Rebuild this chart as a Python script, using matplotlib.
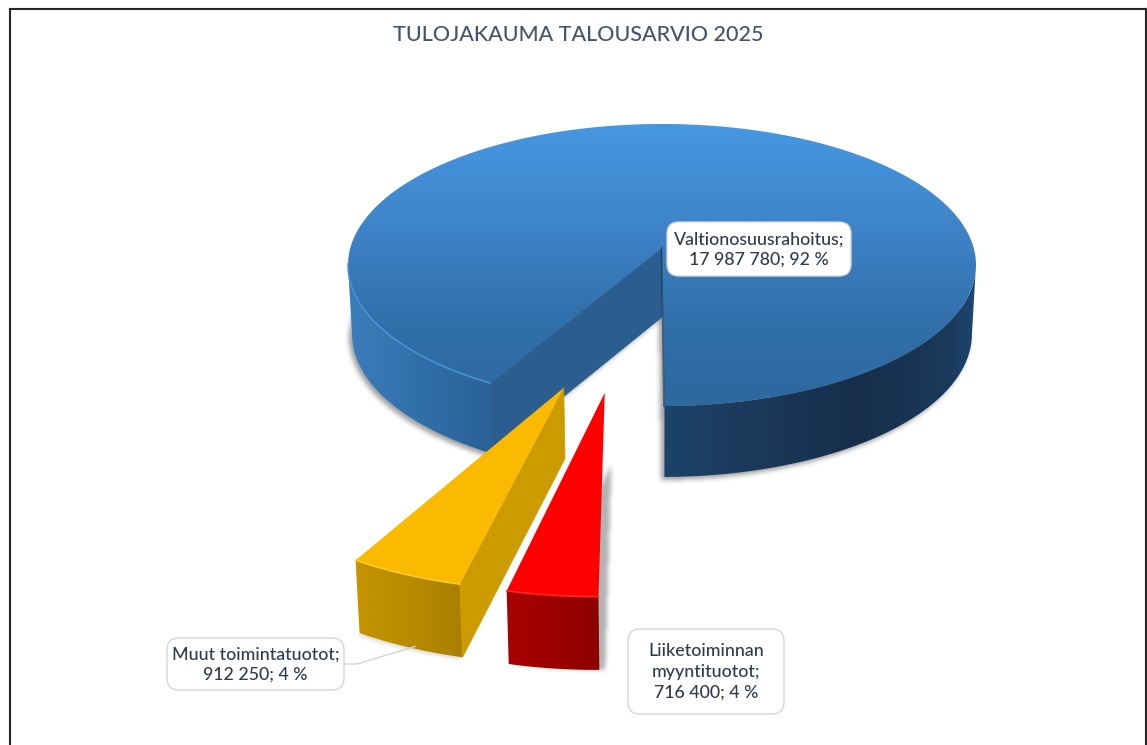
import numpy as np
import matplotlib
matplotlib.use("Agg")
import matplotlib.pyplot as plt
from matplotlib.path import Path
from matplotlib.patches import FancyBboxPatch, PathPatch
from matplotlib.colors import LinearSegmentedColormap as LSC

# ---- data ----
title = "TULOJAKAUMA TALOUSARVIO 2025"
categories = ["Valtionosuusrahoitus", "Liiketoiminnan\nmyyntituotot", "Muut toimintatuotot"]
values = [17987780, 716400, 912250]
pct_labels = [92, 4, 4]

# ---- style ----
W, H = 1147, 745
first_angle = 209.5
explode = [0.0, 0.94, 0.94]
explode_dir = [0.0, 190.0, 197.4]
CX, AY, A, B, K = 662.0, 248.0, 311.7, 139.0, 0.1206
txt_col = "#2f3b4f"
top_cmaps = [
    LSC.from_list("t0", ["#4798e2", "#3f86cb", "#3271ad", "#2d689f"]),
    LSC.from_list("t1", ["#ff0000", "#ff0000"]),
    LSC.from_list("t2", ["#fbba00", "#fbba00"]),
]
wall_stops = [
    [(348, "#3b7dbb"), (420, "#316fa9"), (493, "#2a6196"), (664, "#2a6196"), (665, "#1d4368"),
     (720, "#1c3d60"), (860, "#162e4b"), (950, "#1a3a5c"), (976, "#1e4670")],
    [(509, "#a90000"), (560, "#9a0000"), (600, "#8c0000")],
    [(358, "#c49400"), (420, "#b58900"), (463, "#a97f00")],
]
cut_cols = ["#2b5d8f", None, "#cb9b00"]
rim_cols = ["#4a94da", "#ff2a2a", "#ffd02a"]

fig = plt.figure(figsize=(W / 100, H / 100), dpi=100, facecolor="white")
ax = fig.add_axes([0, 0, 1, 1])
ax.set_xlim(0, W)
ax.set_ylim(H, 0)
ax.axis("off")


def project(X, Y, z=0.0):
    """Perspective projection of pie-plane coordinates, z=1 is the lower face."""
    X, Y = np.asarray(X, float), np.asarray(Y, float)
    w = 1.0 / (1.0 - K * Y)
    sx = A * X * w
    sy = AY + B * Y * w
    if z:
        sx = sx * 0.987
        sy = sy + 55 + 14 * w
    return np.column_stack([CX + sx, sy])


def blur(img, sigma):
    r = int(3 * sigma) + 1
    x = np.arange(-r, r + 1)
    g = np.exp(-x**2 / (2 * sigma**2))
    g /= g.sum()
    img = np.apply_along_axis(lambda m: np.convolve(m, g, mode="same"), 0, img)
    return np.apply_along_axis(lambda m: np.convolve(m, g, mode="same"), 1, img)


def shadow(polys, dx, dy, sigma, alpha, zorder):
    pts = np.vstack(polys)
    pad = 20
    x0 = max(int(pts[:, 0].min() + min(dx, 0)) - pad, 0)
    x1 = min(int(pts[:, 0].max() + max(dx, 0)) + pad, W)
    y0 = max(int(pts[:, 1].min() + min(dy, 0)) - pad, 0)
    y1 = min(int(pts[:, 1].max() + max(dy, 0)) + pad, H)
    gx, gy = np.meshgrid(np.arange(x0, x1) + 0.5, np.arange(y0, y1) + 0.5)
    grid = np.column_stack([gx.ravel() - dx, gy.ravel() - dy])
    mask = np.zeros(gx.size, bool)
    for p in polys:
        mask |= Path(p).contains_points(grid)
    m = blur(mask.reshape(gx.shape).astype(float), sigma)
    rgba = np.zeros(m.shape + (4,))
    rgba[..., 3] = m * alpha
    ax.imshow(rgba, extent=(x0, x1, y1, y0), aspect="auto", zorder=zorder,
              interpolation="bilinear")


def gradient_fill(poly, rgb_rows, extent, zorder):
    """Paint an image and clip it to a polygon."""
    im = ax.imshow(rgb_rows, extent=extent, aspect="auto", zorder=zorder, interpolation="bilinear")
    clip = PathPatch(Path(np.vstack([poly, poly[:1]])), transform=ax.transData,
                     facecolor="none", edgecolor="none")
    ax.add_patch(clip)
    im.set_clip_path(clip)


def wall_image(stops, x0, x1):
    xs = [s[0] for s in stops]
    cs = np.array([matplotlib.colors.to_rgb(s[1]) for s in stops])
    gx = np.linspace(x0, x1, max(int(x1 - x0), 2))
    return np.stack([np.interp(gx, xs, cs[:, i]) for i in range(3)], axis=-1)[None, :, :]


# slice angles follow from the values (clockwise from the back of the pie)
total = sum(values)
spans = [v / total * 360.0 for v in values]
starts = first_angle + np.cumsum([0] + spans[:-1])

z = 2.0
for i, (st, sp) in enumerate(zip(starts, spans)):
    th = np.radians(np.linspace(st, st + sp, 720 if i == 0 else 40))
    d = np.radians(explode_dir[i])
    ox, oy = explode[i] * np.sin(d), -explode[i] * np.cos(d)
    X = ox + np.sin(th)
    Y = oy - np.cos(th)
    top_arc = project(X, Y)
    bot_arc = project(X, Y, 1)
    ap_top = project([ox], [oy])
    ap_bot = project([ox], [oy], 1)
    top_poly = np.vstack([ap_top, top_arc])
    bot_poly = np.vstack([ap_bot, bot_arc])

    # soft shadow
    if i == 0:
        cut_sil = np.vstack([ap_top, top_arc[:1], bot_arc[:1], ap_bot])
        shadow([bot_poly, cut_sil], -3, 3, 2.5, 0.38, z)
    elif i == 1:
        shadow([bot_poly], 6, 0, 2.2, 0.30, z)
    else:
        shadow([bot_poly], -2, 2, 2.0, 0.15, z)
    z += 0.1

    # outer wall: only the runs of the arc that face the viewer
    visible = Y >= K
    runs = np.split(np.arange(len(Y)), np.where(np.diff(visible.astype(int)) != 0)[0] + 1)
    for run in runs:
        if not visible[run[0]] or len(run) < 2:
            continue
        wall_poly = np.vstack([top_arc[run], bot_arc[run][::-1]])
        x0, x1 = wall_poly[:, 0].min() - 1, wall_poly[:, 0].max() + 1
        y0, y1 = wall_poly[:, 1].min() - 1, wall_poly[:, 1].max() + 1
        gradient_fill(wall_poly, wall_image(wall_stops[i], x0, x1), (x0, x1, y1, y0), z)
    z += 0.1

    # cut face
    if cut_cols[i]:
        cut = np.vstack([ap_top, top_arc[0], bot_arc[0], ap_bot])
        ax.fill(cut[:, 0], cut[:, 1], color=cut_cols[i], lw=0.5, zorder=z)
    z += 0.1

    # top face with a vertical gradient
    y0, y1 = top_poly[:, 1].min(), top_poly[:, 1].max()
    x0, x1 = top_poly[:, 0].min(), top_poly[:, 0].max()
    grad = top_cmaps[i](np.linspace(0, 1, 256))[:, :3][:, None, :]
    gradient_fill(top_poly, grad, (x0, x1, y1, y0), z)
    z += 0.1

    # lit rim along the front edge
    if i == 0:
        keep = np.degrees(th) < 264
        ax.plot(top_arc[keep, 0], top_arc[keep, 1], color=rim_cols[0], lw=1.1, zorder=z,
                solid_capstyle="round")
        # dark edge of the right cut
        ax.plot([ap_top[0, 0] - 0.5, top_arc[-1, 0] - 0.5], [ap_top[0, 1], top_arc[-1, 1]],
                color="#14263c", lw=1.2, alpha=0.55, zorder=z)
    else:
        ax.plot(top_arc[:, 0], top_arc[:, 1], color=rim_cols[i], lw=1.1, zorder=z)
    z += 0.1

ax.set_xlim(0, W)
ax.set_ylim(H, 0)

# frame
for xs, ys in [((9.5, 9.5), (H, 8.5)), ((9.5, 1145.5), (8.5, 8.5)), ((1145.5, 1145.5), (8.5, H))]:
    ax.plot(xs, ys, color="#262626", lw=1.5, zorder=1, solid_capstyle="projecting")

ax.text(578, 35, title, ha="center", va="center", fontsize=15.5, color="#44546a",
        family="Lato", fontweight="medium", zorder=30)

# leader line
ax.plot([344, 357, 415], [664, 664, 646.5], color="#d4d4d4", lw=1.0, zorder=20)


def fmt(v):
    return f"{v:,}".replace(",", " ")


label_boxes = [(667, 222, 851, 276), (628, 629, 784, 714), (167, 638, 344, 690)]
for i, (x0, y0, x1, y1) in enumerate(label_boxes):
    ax.add_patch(FancyBboxPatch((x0 + 12, y0 + 12), x1 - x0 - 24, y1 - y0 - 24,
                                boxstyle="round,pad=12,rounding_size=12", fc="white",
                                ec="#d3d6da", lw=1.0, zorder=31))
    s = f"{categories[i]};\n{fmt(values[i])}; {pct_labels[i]} %"
    ax.text((x0 + x1) / 2, (y0 + y1) / 2 + 0.5, s, ha="center", va="center", fontsize=12.8,
            color=txt_col, family="Lato", fontweight="medium", linespacing=1.36, zorder=32)

fig.savefig("out.png", dpi=100, facecolor="white")
